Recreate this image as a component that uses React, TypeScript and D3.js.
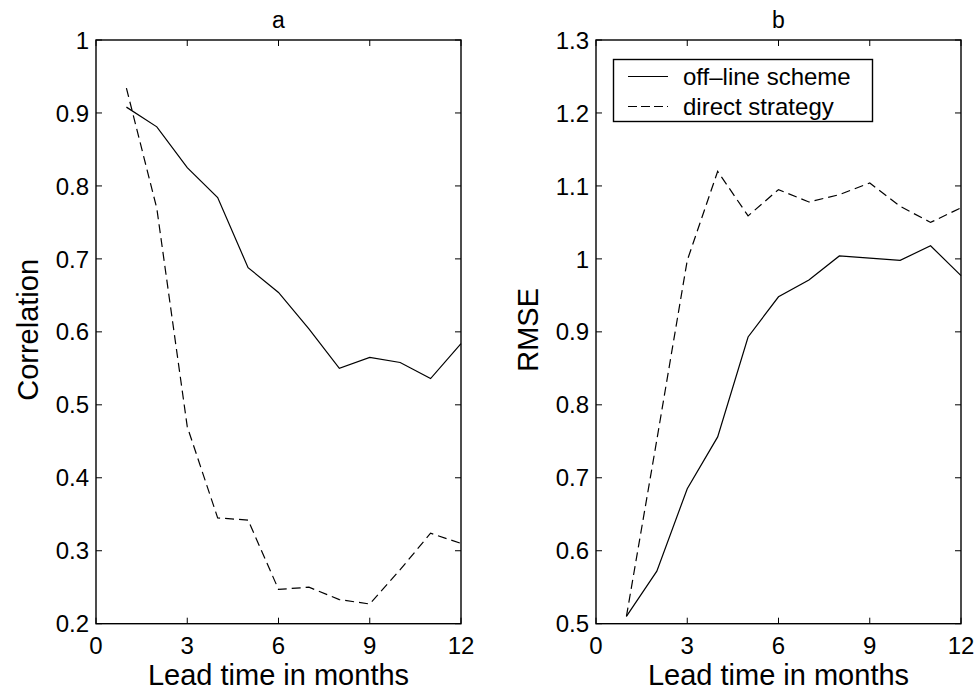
import React, { useEffect, useRef } from "react";
import * as d3 from "d3";

const leadMonths = [1, 2, 3, 4, 5, 6, 7, 8, 9, 10, 11, 12];
const corrOffline = [0.908, 0.881, 0.825, 0.784, 0.688, 0.654, 0.604, 0.55, 0.565, 0.558, 0.536, 0.584];
const corrDirect = [0.934, 0.769, 0.47, 0.345, 0.342, 0.247, 0.25, 0.233, 0.227, 0.274, 0.324, 0.31];
const rmseOffline = [0.51, 0.572, 0.685, 0.756, 0.893, 0.948, 0.971, 1.004, 1.001, 0.998, 1.018, 0.977];
const rmseDirect = [0.51, 0.752, 0.998, 1.12, 1.059, 1.095, 1.078, 1.088, 1.104, 1.072, 1.05, 1.07];
const xTicks = [0, 3, 6, 9, 12];
const corrTicks = [0.2, 0.3, 0.4, 0.5, 0.6, 0.7, 0.8, 0.9, 1];
const rmseTicks = [0.5, 0.6, 0.7, 0.8, 0.9, 1, 1.1, 1.2, 1.3];
const seriesNames = ["off\u2013line scheme", "direct strategy"];

const W = 978;
const H = 690;
const FONT = "'Liberation Sans', Arial, Helvetica, sans-serif";

export default function App() {
  const ref = useRef<SVGSVGElement>(null);

  useEffect(() => {
    const svg = d3.select(ref.current);
    svg.selectAll("*").remove();

    const top = 40;
    const bottom = 623.7;
    const panels = [
      { left: 96, right: 461, title: "a", ylabel: "Correlation", domain: [0.2, 1], ticks: corrTicks, s1: corrOffline, s2: corrDirect, legend: false },
      { left: 596, right: 961, title: "b", ylabel: "RMSE", domain: [0.5, 1.3], ticks: rmseTicks, s1: rmseOffline, s2: rmseDirect, legend: true },
    ];

    panels.forEach((p) => {
      const x = d3.scaleLinear().domain([0, 12]).range([p.left, p.right]);
      const y = d3.scaleLinear().domain(p.domain).range([bottom, top]);
      const g = svg.append("g");
      const tickLen = 6;

      xTicks.forEach((t) => {
        g.append("line").attr("x1", x(t)).attr("x2", x(t)).attr("y1", bottom).attr("y2", bottom - tickLen).attr("stroke", "#000").attr("stroke-width", 1);
        g.append("line").attr("x1", x(t)).attr("x2", x(t)).attr("y1", top).attr("y2", top + tickLen).attr("stroke", "#000").attr("stroke-width", 1);
        g.append("text").attr("x", x(t)).attr("y", 653.5).attr("text-anchor", "middle").attr("font-family", FONT).attr("font-size", 24).text(String(t));
      });
      p.ticks.forEach((t) => {
        g.append("line").attr("x1", p.left).attr("x2", p.left + tickLen).attr("y1", y(t)).attr("y2", y(t)).attr("stroke", "#000").attr("stroke-width", 1);
        g.append("line").attr("x1", p.right).attr("x2", p.right - tickLen).attr("y1", y(t)).attr("y2", y(t)).attr("stroke", "#000").attr("stroke-width", 1);
        g.append("text").attr("x", p.left - 7).attr("y", y(t)).attr("dy", "0.36em").attr("text-anchor", "end").attr("font-family", FONT).attr("font-size", 24).text(d3.format("~g")(+t.toFixed(1)));
      });

      const line = d3.line<number>().x((_, i) => x(leadMonths[i])).y((d) => y(d));
      g.append("path").attr("d", line(p.s1)!).attr("fill", "none").attr("stroke", "#000").attr("stroke-width", 1.2);
      g.append("path").attr("d", line(p.s2)!).attr("fill", "none").attr("stroke", "#000").attr("stroke-width", 1.2).attr("stroke-dasharray", "9,5");

      g.append("rect").attr("x", p.left).attr("y", top).attr("width", p.right - p.left).attr("height", bottom - top).attr("fill", "none").attr("stroke", "#000").attr("stroke-width", 1.4);

      g.append("text").attr("x", (p.left + p.right) / 2).attr("y", 28).attr("text-anchor", "middle").attr("font-family", FONT).attr("font-size", 23).text(p.title);
      g.append("text").attr("x", (p.left + p.right) / 2).attr("y", 685).attr("text-anchor", "middle").attr("font-family", FONT).attr("font-size", 29).text("Lead time in months");
      g.append("text").attr("transform", `translate(${p.left - 58},${(top + bottom) / 2 - 2}) rotate(-90)`).attr("text-anchor", "middle").attr("font-family", FONT).attr("font-size", 29).text(p.ylabel);

      if (p.legend) {
        const lg = svg.append("g");
        lg.append("rect").attr("x", 613.5).attr("y", 59.5).attr("width", 259).attr("height", 62).attr("fill", "#fff").attr("stroke", "#000").attr("stroke-width", 1.4);
        const rows = [76.5, 106.5];
        seriesNames.forEach((name, i) => {
          lg.append("line").attr("x1", 628).attr("x2", 668).attr("y1", rows[i]).attr("y2", rows[i]).attr("stroke", "#000").attr("stroke-width", 1.2).attr("stroke-dasharray", i === 1 ? "9,4" : null);
          lg.append("text").attr("x", 683).attr("y", rows[i]).attr("dy", "0.36em").attr("font-family", FONT).attr("font-size", 24).text(name);
        });
      }
    });
  }, []);

  return (
    <svg ref={ref} width={W} height={H} style={{ position: "absolute", left: 0, top: 0, background: "#fff" }} />
  );
}
